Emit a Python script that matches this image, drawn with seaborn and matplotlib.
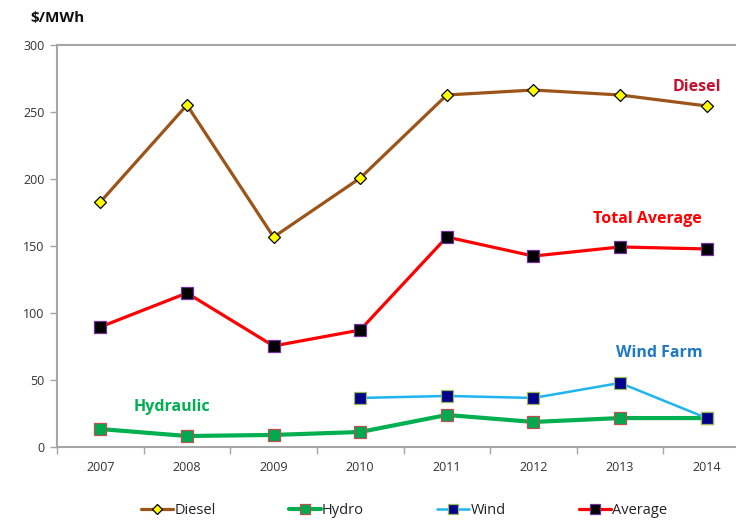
import matplotlib
matplotlib.use("Agg")
import matplotlib.pyplot as plt
from matplotlib.lines import Line2D
import numpy as np
import pandas as pd
import seaborn as sns

years = ["2007", "2008", "2009", "2010", "2011", "2012", "2013", "2014"]
diesel = [182.8, 255.2, 156.7, 200.7, 262.7, 266.4, 262.7, 254.5]
hydro = [13.4, 8.2, 9.0, 11.2, 23.9, 18.7, 21.6, 21.6]
wind = [np.nan, np.nan, np.nan, 36.6, 38.1, 36.6, 47.8, 21.6]
average = [89.6, 114.9, 75.4, 87.3, 156.7, 142.5, 149.3, 147.8]
y_ticks = [0, 50, 100, 150, 200, 250, 300]

sns.set_theme(style="white")
plt.rcParams["font.family"] = ["Open Sans", "DejaVu Sans"]

fig = plt.figure(figsize=(7.36, 5.2), dpi=100)
ax = fig.add_axes([57 / 736, 73 / 520, 693 / 736, 402 / 520])

pos = np.arange(len(years))
series = [
    ("Diesel", diesel, dict(color="#9C5418", lw=2.3, marker="D", ms=6,
                            mfc="#FFFF00", mec="#000000", mew=0.9)),
    ("Hydro", hydro, dict(color="#00B050", lw=3.0, marker="s", ms=8,
                          mfc="#00A850", mec="#C0504D", mew=0.9)),
    ("Wind", wind, dict(color="#1EB4F0", lw=1.8, marker="s", ms=8,
                        mfc="#00008B", mec="#9BBB59", mew=0.9)),
    ("Average", average, dict(color="#FF0000", lw=2.3, marker="s", ms=8,
                              mfc="#000000", mec="#7030A0", mew=0.9)),
]

handles = []
for name, vals, st in series:
    df = pd.DataFrame({"x": pos, "y": vals}).dropna()
    sns.lineplot(data=df, x="x", y="y", ax=ax, color=st["color"], lw=st["lw"],
                 marker=st["marker"], markersize=st["ms"],
                 markerfacecolor=st["mfc"], markeredgecolor=st["mec"],
                 markeredgewidth=st["mew"], zorder=3)
    handles.append(Line2D([], [], color=st["color"], lw=st["lw"], marker=st["marker"],
                          markersize=st["ms"] - 1, markerfacecolor=st["mfc"],
                          markeredgecolor=st["mec"], markeredgewidth=st["mew"],
                          label=name))

ax.set_xlim(-0.5, 7.5)
ax.set_ylim(0, 300)
ax.set_xlabel("")
ax.set_ylabel("")

ax.set_xticks(pos)
ax.set_xticklabels(years)
ax.set_xticks(np.arange(-0.5, 8, 1.0), minor=True)
ax.set_yticks(y_ticks)
ax.tick_params(axis="x", which="major", length=0, pad=10, labelsize=9, labelcolor="#333333")
ax.tick_params(axis="x", which="minor", length=5, width=1.0, color="#A6A6A6", direction="out")
ax.tick_params(axis="y", which="major", length=5, width=1.0, color="#A6A6A6",
               direction="out", pad=4, labelsize=9, labelcolor="#333333")
ax.yaxis.set_tick_params(left=True)
ax.xaxis.set_tick_params(which="minor", bottom=True)

for side in ["left", "bottom", "top"]:
    ax.spines[side].set_visible(True)
    ax.spines[side].set_color("#A6A6A6")
    ax.spines[side].set_linewidth(1.5)
ax.spines["right"].set_visible(False)

fig.text(30 / 736, 1 - 18 / 520, "$/MWh", fontsize=11, fontweight="bold",
         ha="left", va="center", color="#111111")

ax.text(6.89, 268.7, "Diesel", color="#C8102E", fontsize=11.5, fontweight="bold", ha="center", va="center")
ax.text(6.32, 170, "Total Average", color="#FF0000", fontsize=11.5, fontweight="bold", ha="center", va="center")
ax.text(6.45, 70, "Wind Farm", color="#1F77C8", fontsize=11.5, fontweight="bold", ha="center", va="center")
ax.text(0.83, 30, "Hydraulic", color="#00B050", fontsize=11.5, fontweight="bold", ha="center", va="center")

fig.legend(handles=handles, loc="center", bbox_to_anchor=(404 / 736, 1 - 511 / 520),
           ncol=4, frameon=False, fontsize=10.5, columnspacing=5.0, handlelength=2.2,
           handletextpad=0.1, labelcolor="#222222")

fig.savefig("out.png", dpi=100)
